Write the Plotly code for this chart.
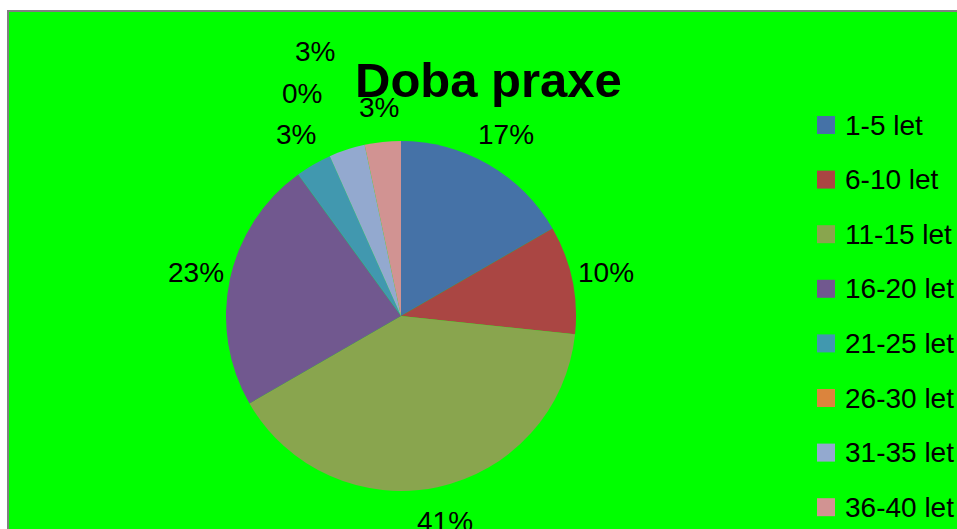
import math
import plotly.graph_objects as go

# ---- data ----
categories = ["1-5 let", "6-10 let", "11-15 let", "16-20 let",
              "21-25 let", "26-30 let", "31-35 let", "36-40 let"]
counts = [5, 3, 12, 7, 1, 0, 1, 1]
pct_labels = ["17%", "10%", "41%", "23%", "3%", "0%", "3%", "3%"]
colors = ["#4572A7", "#AA4643", "#89A54E", "#71588F",
          "#4198AF", "#DB843D", "#93A9CF", "#D19392"]
title_text = "Doba praxe"

# ---- layout constants (pixels) ----
W, H = 957, 529
CX, CY, R = 401, 316, 175
FONT = "Arial, Liberation Sans, sans-serif"
LBL_SIZE = 28

fig = go.Figure()

# green panel with gray border
fig.add_shape(type="rect", xref="paper", yref="paper",
              x0=8 / W, x1=1.02, y0=-0.02, y1=1 - 11 / H,
              fillcolor="#00FF00", line=dict(color="#808080", width=2),
              layer="below")

fig.add_trace(go.Pie(
    labels=categories, values=counts, sort=False, direction="clockwise",
    rotation=0, marker=dict(colors=colors, line=dict(width=0)),
    textinfo="none", hoverinfo="label+value", showlegend=False,
    domain=dict(x=[(CX - R) / W, (CX + R) / W],
                y=[(H - CY - R) / H, (H - CY + R) / H]),
))

# ---- percentage labels, placed radially with simple collision push-out ----
total = sum(counts)
cum = 0.0
placed = []
annotations = []
for v, t in zip(counts, pct_labels):
    mid = (cum + v / 2) / total * 2 * math.pi
    cum += v
    sx, sy = math.sin(mid), -math.cos(mid)
    w = len(t) * 0.6 * LBL_SIZE + 8
    h = 41
    d = 210
    while True:
        px, py = CX + d * sx, CY + d * sy
        ok = all(abs(px - qx) >= (w + qw) / 2 or abs(py - qy) >= (h + qh) / 2
                 for qx, qy, qw, qh in placed)
        if ok:
            break
        d += 1
    placed.append((px, py, w, h))
    annotations.append(dict(x=px / W, y=1 - py / H, xref="paper", yref="paper",
                            text=t, showarrow=False, xanchor="center",
                            yanchor="middle",
                            font=dict(family=FONT, size=LBL_SIZE, color="black")))

# ---- custom legend ----
LEG_X0, LEG_Y0, LEG_DY, SQ = 817, 125, 54.6, 18
for i, (c, col) in enumerate(zip(categories, colors)):
    yc = LEG_Y0 + i * LEG_DY
    fig.add_shape(type="rect", xref="paper", yref="paper",
                  x0=LEG_X0 / W, x1=(LEG_X0 + SQ) / W,
                  y0=1 - (yc + SQ / 2) / H, y1=1 - (yc - SQ / 2) / H,
                  fillcolor=col, line=dict(width=0))
    annotations.append(dict(x=(LEG_X0 + SQ + 8) / W, y=1 - yc / H,
                            xref="paper", yref="paper", text=c,
                            showarrow=False, xanchor="left", yanchor="middle",
                            font=dict(family=FONT, size=LBL_SIZE, color="black")))

annotations.append(dict(x=488 / W, y=1 - 80 / H, xref="paper", yref="paper",
                        text="<b>" + title_text + "</b>", showarrow=False,
                        xanchor="center", yanchor="middle",
                        font=dict(family=FONT, size=49, color="black")))

fig.update_layout(width=W, height=H, margin=dict(l=0, r=0, t=0, b=0),
                  paper_bgcolor="white", plot_bgcolor="white",
                  annotations=annotations, showlegend=False)

fig.write_html("out.html")
